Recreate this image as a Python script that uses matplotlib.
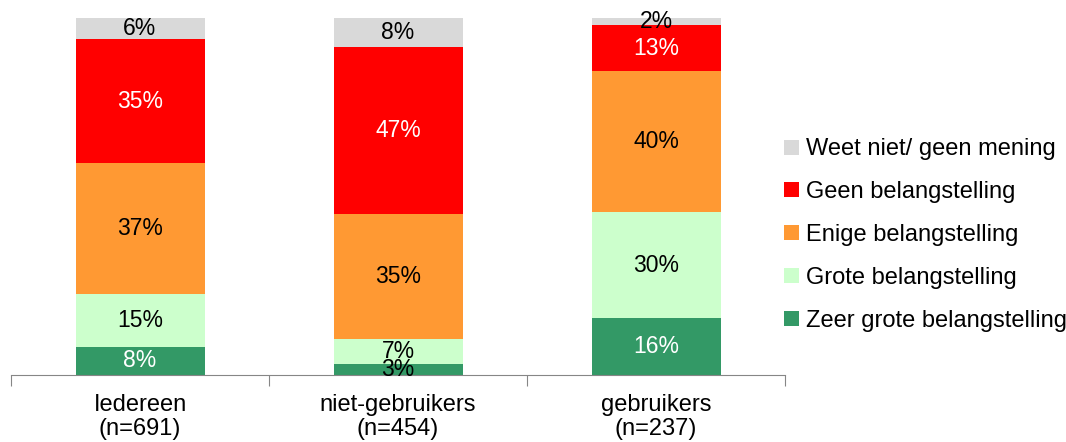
import numpy as np
import matplotlib.pyplot as plt
from matplotlib.patches import Patch

plt.rcParams['font.family'] = ['Liberation Sans', 'DejaVu Sans']

# Data (percentages)
groups = ['Iedereen\n(n=691)', 'niet-gebruikers\n(n=454)', 'gebruikers\n(n=237)']
series = ['Zeer grote belangstelling', 'Grote belangstelling', 'Enige belangstelling',
          'Geen belangstelling', 'Weet niet/ geen mening']
zeer_groot = [8, 3, 16]
groot = [15, 7, 30]
enige = [37, 35, 40]
geen = [35, 47, 13]
weet_niet = [6, 8, 2]

colors = ['#339966', '#CCFFCC', '#FF9933', '#FF0000', '#D9D9D9']
text_colors = ['white', 'black', 'black', 'white', 'black']

values = np.array([zeer_groot, groot, enige, geen, weet_niet], dtype=float)
shares = values / values.sum(axis=0) * 100  # 100% stacked

fig = plt.figure(figsize=(10.66, 4.42), dpi=100)
ax = fig.add_axes([11 / 1066, 1 - 375 / 442, 774 / 1066, 357 / 442])

x = np.arange(len(groups))
bottom = np.zeros(len(groups))
for i, name in enumerate(series):
    ax.bar(x, shares[i], 0.5, bottom=bottom, color=colors[i], label=name)
    for j in range(len(groups)):
        # tiny segments: label sticks out of the bar, so black text
        tc = text_colors[i] if values[i][j] >= 5 else 'black'
        ax.text(x[j], bottom[j] + shares[i][j] / 2, f'{int(values[i][j])}%',
                ha='center', va='center', fontsize=16.5, color=tc)
    bottom += shares[i]

ax.set_xlim(-0.5, len(groups) - 0.5)
ax.set_ylim(0, 100)
for side in ['top', 'right', 'left']:
    ax.spines[side].set_visible(False)
ax.spines['bottom'].set_color('#868686')
ax.set_yticks([])
ax.set_xticks(np.arange(-0.5, len(groups)), minor=False)
ax.set_xticklabels([])
ax.tick_params(axis='x', which='major', length=8, color='#868686', direction='out')
ax.set_xticks(x, minor=True)
ax.set_xticklabels(groups, minor=True, fontsize=17, linespacing=1.1)
ax.tick_params(axis='x', which='minor', length=0, pad=14)

handles = [Patch(facecolor=c, edgecolor='none') for c in colors][::-1]
fig.legend(handles, series[::-1], loc='center left', bbox_to_anchor=(775 / 1066, 1 - 235 / 442),
           frameon=False, fontsize=17, handlelength=0.6, handleheight=0.6,
           handletextpad=0.3, labelspacing=0.88, borderaxespad=0)

fig.savefig('out.png', dpi=100)
